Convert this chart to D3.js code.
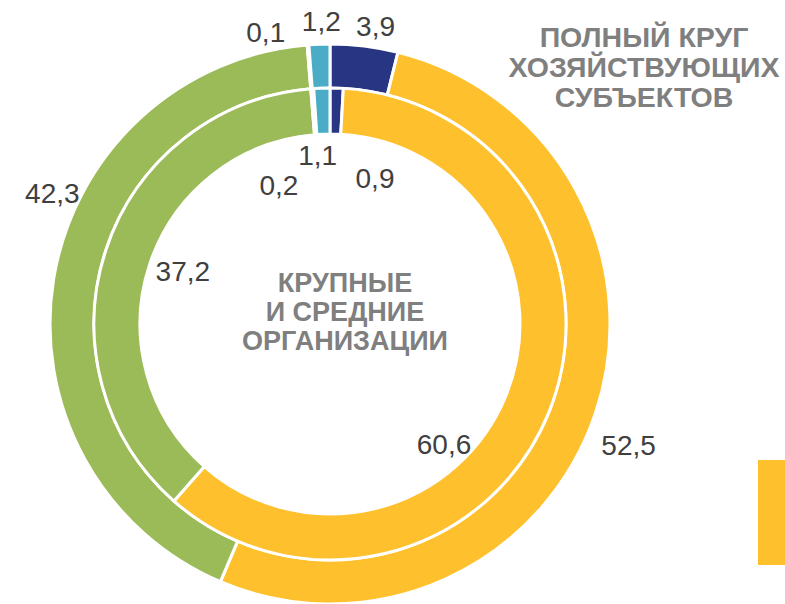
<!DOCTYPE html>
<html><head><meta charset="utf-8">
<script src="https://cdn.jsdelivr.net/npm/d3@7"></script>
<style>html,body{margin:0;padding:0;background:#fff;}svg{display:block;}</style>
</head><body>
<svg id="chart" width="785" height="604"></svg>
<script>
// Categories (legend not visible in the reference; keys only)
const categories = ["c1", "c2", "c3", "c4", "c5"];
const colors = ["#283582", "#FEC12D", "#9BBB59", "#8064A2", "#4BACC6"];
// Outer ring: полный круг хозяйствующих субъектов
const outerValues = [3.9, 52.5, 42.3, 0.1, 1.2];
const outerLabels = ["3,9", "52,5", "42,3", "0,1", "1,2"];
// Inner ring: крупные и средние организации
const innerValues = [0.9, 60.6, 37.2, 0.2, 1.1];
const innerLabels = ["0,9", "60,6", "37,2", "0,2", "1,1"];
// Label offsets from arc centroids (manually placed labels in original)
const outerLabelOffsets = [[14, -32], [54, 49], [-23, -80], [-44, -25], [1, -35]];
const innerLabelOffsets = [[39, 77], [-83, 49], [55, 24], [-35, 83], [-5, 54]];
const outerTitle = ["ПОЛНЫЙ КРУГ", "ХОЗЯЙСТВУЮЩИХ", "СУБЪЕКТОВ"];
const innerTitle = ["КРУПНЫЕ", "И СРЕДНИЕ", "ОРГАНИЗАЦИИ"];

const svg = d3.select("#chart");
const cx = 330, cy = 324;
const g = svg.append("g").attr("transform", `translate(${cx},${cy})`);

const pie = d3.pie().sort(null).value(d => d);
const color = d3.scaleOrdinal().domain(categories).range(colors);

const rings = [
  {values: outerValues, labels: outerLabels, offs: outerLabelOffsets, r0: 236, r1: 280},
  {values: innerValues, labels: innerLabels, offs: innerLabelOffsets, r0: 190, r1: 236}
];

rings.forEach(ring => {
  const arc = d3.arc().innerRadius(ring.r0).outerRadius(ring.r1);
  const arcs = pie(ring.values);
  g.append("g").selectAll("path").data(arcs).join("path")
    .attr("d", arc)
    .attr("fill", (d, i) => color(categories[i]))
    .attr("stroke", "#fff").attr("stroke-width", 3).attr("stroke-linejoin", "miter");
  g.append("g").selectAll("text").data(arcs).join("text")
    .attr("x", (d, i) => arc.centroid(d)[0] + ring.offs[i][0])
    .attr("y", (d, i) => arc.centroid(d)[1] + ring.offs[i][1])
    .attr("text-anchor", "middle")
    .attr("font-family", "Liberation Sans, Arial, sans-serif")
    .attr("font-size", 28)
    .attr("fill", "#404040")
    .text((d, i) => ring.labels[i]);
});

svg.append("text")
  .attr("x", 345).attr("y", 292)
  .attr("text-anchor", "middle")
  .attr("font-family", "Liberation Sans, Arial, sans-serif")
  .attr("font-weight", "bold").attr("font-size", 27).attr("fill", "#7F7F7F")
  .selectAll("tspan").data(innerTitle).join("tspan")
  .attr("x", 345).attr("dy", (d, i) => i === 0 ? 0 : 29).text(d => d);

svg.append("text")
  .attr("x", 644).attr("y", 47)
  .attr("text-anchor", "middle")
  .attr("font-family", "Liberation Sans, Arial, sans-serif")
  .attr("font-weight", "bold").attr("font-size", 28.5).attr("fill", "#7F7F7F")
  .selectAll("tspan").data(outerTitle).join("tspan")
  .attr("x", 644).attr("dy", (d, i) => i === 0 ? 0 : 30).text(d => d);

// Partially visible legend swatch at the right edge
svg.append("rect")
  .attr("x", 758).attr("y", 460).attr("width", 40).attr("height", 105)
  .attr("fill", color(categories[1]));
</script>
</body></html>
